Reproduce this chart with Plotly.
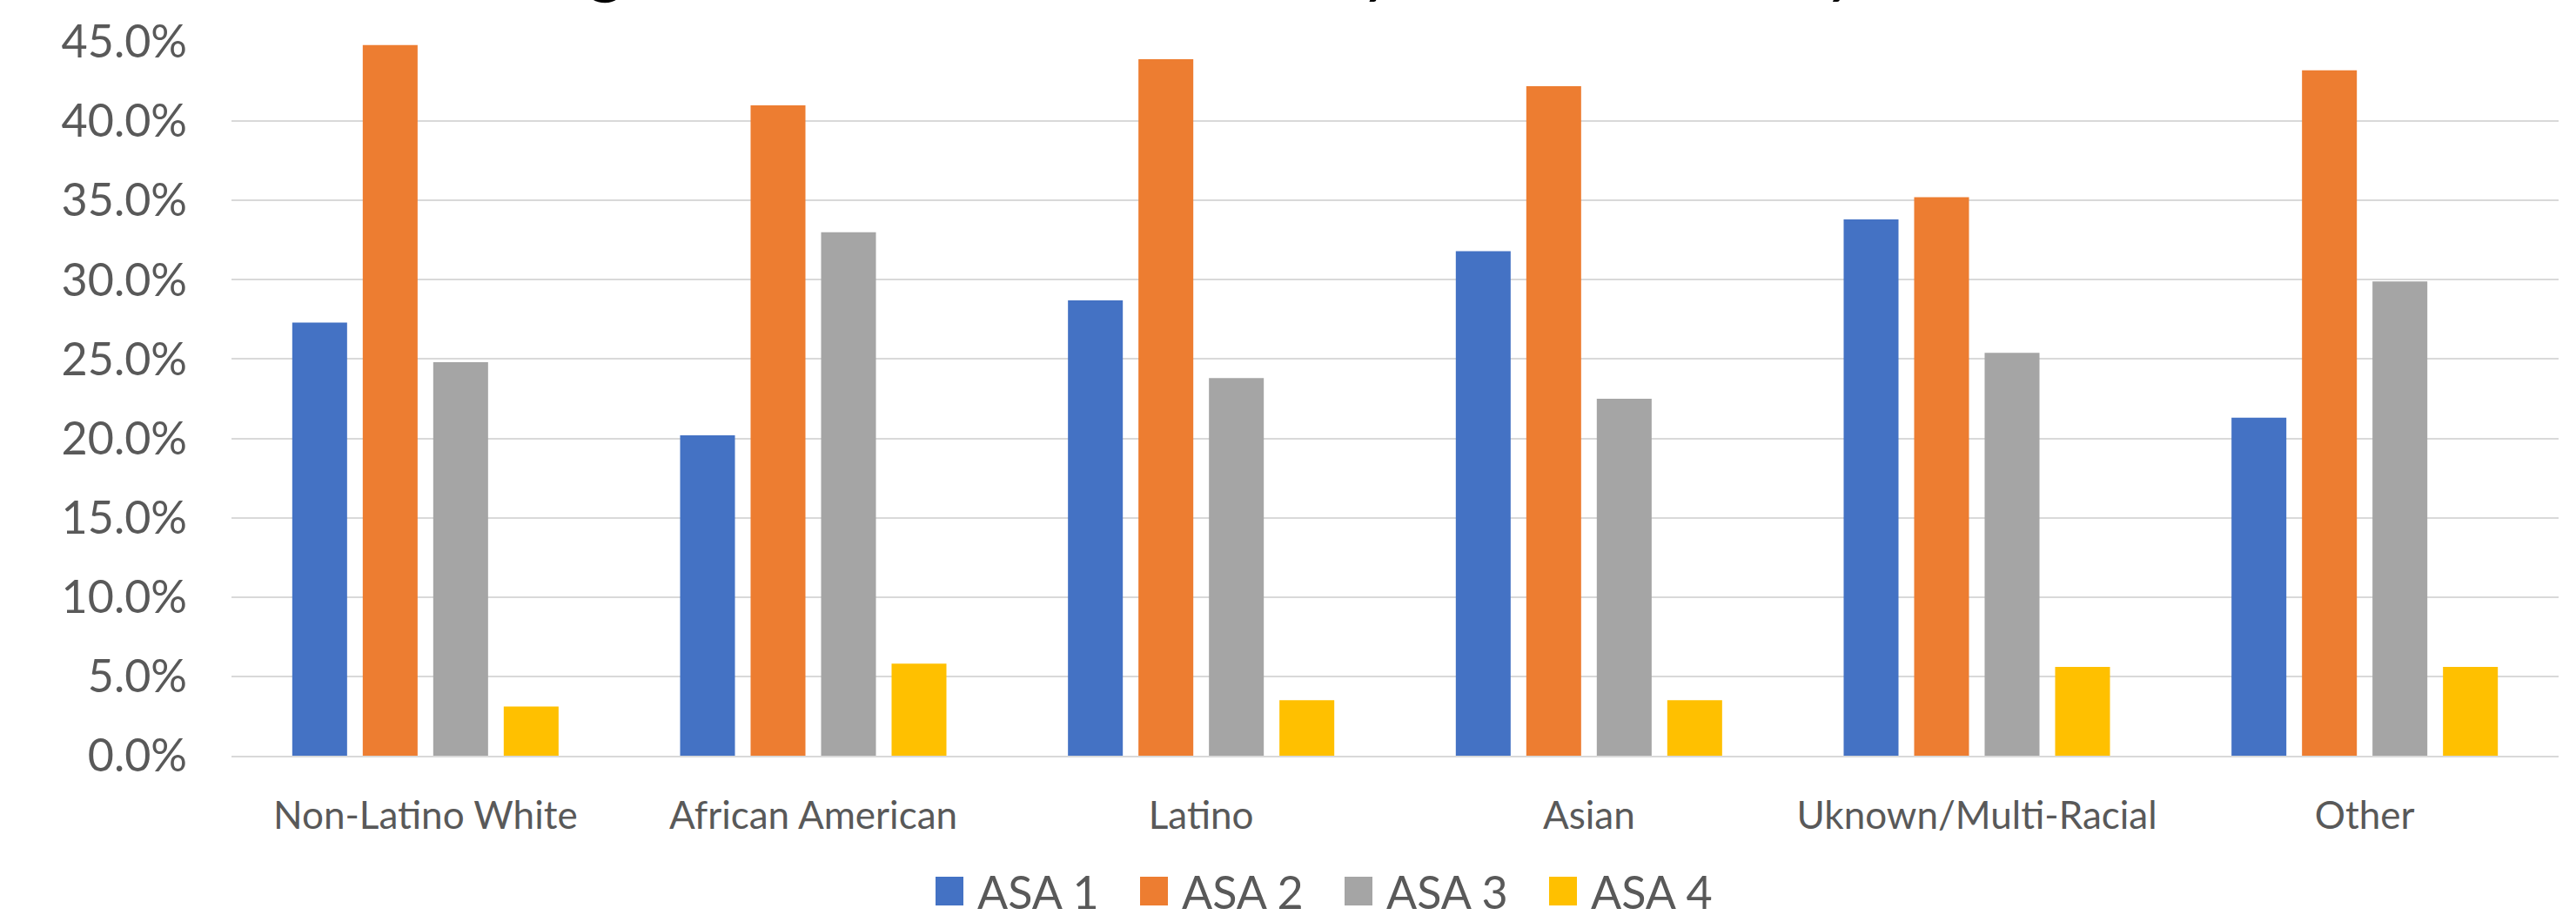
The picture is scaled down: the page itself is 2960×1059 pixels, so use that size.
import plotly.graph_objects as go

# Race/ethnicity groups and the share of patients in each ASA class
categories = ["Non-Latino White", "African American", "Latino", "Asian",
              "Uknown/Multi-Racial", "Other"]
asa_1 = [0.273, 0.202, 0.287, 0.318, 0.338, 0.213]
asa_2 = [0.448, 0.410, 0.439, 0.422, 0.352, 0.432]
asa_3 = [0.248, 0.330, 0.238, 0.225, 0.254, 0.299]
asa_4 = [0.031, 0.058, 0.035, 0.035, 0.056, 0.056]

series_names = ["ASA 1", "ASA 2", "ASA 3", "ASA 4"]
series_values = [asa_1, asa_2, asa_3, asa_4]
series_colors = ["#4472C4", "#ED7D31", "#A5A5A5", "#FFC000"]

y_ticks = [0.0, 0.05, 0.10, 0.15, 0.20, 0.25, 0.30, 0.35, 0.40, 0.45]

W, H = 2960, 1059
M_L, M_R, M_T, M_B = 266, 20, 48, 191
PLOT_W = W - M_L - M_R
PLOT_H = H - M_T - M_B


def px_x(px):
    """Page pixel x -> paper coordinate."""
    return (px - M_L) / PLOT_W


def px_y(py):
    """Page pixel y (from top) -> paper coordinate."""
    return (H - M_B - py) / PLOT_H


FONT = "Lato"
TEXT_GREY = "#595959"
GRID_GREY = "#D9D9D9"

fig = go.Figure()
for name, vals, color in zip(series_names, series_values, series_colors):
    fig.add_trace(go.Bar(
        x=categories, y=vals, name=name,
        marker=dict(color=color, line=dict(width=0)),
        showlegend=False,
    ))

# Legend: coloured squares followed by the series names
shapes = []
annotations = []
legend_x0 = 1075
legend_step = 235
sq_w, sq_h = 32, 33
sq_top = 1007
for i, (name, color) in enumerate(zip(series_names, series_colors)):
    x0 = legend_x0 + i * legend_step
    shapes.append(dict(
        type="rect", xref="paper", yref="paper",
        x0=px_x(x0), x1=px_x(x0 + sq_w),
        y0=px_y(sq_top + sq_h), y1=px_y(sq_top),
        fillcolor=color, line=dict(width=0),
    ))
    annotations.append(dict(
        text=name, xref="paper", yref="paper",
        x=px_x(x0 + 46), y=px_y(sq_top + sq_h / 2),
        xanchor="left", yanchor="middle", showarrow=False,
        font=dict(family=FONT, size=52, color=TEXT_GREY),
    ))

# Chart title, sitting almost entirely above the top edge of the page
annotations.append(dict(
    text="Percentage of ASA Classification by Race/Ethnicity",
    xref="paper", yref="paper",
    x=px_x(1252), y=px_y(-43),
    xanchor="center", yanchor="middle", showarrow=False,
    font=dict(family=FONT, size=80, color="#000000"),
))

fig.update_layout(
    width=W, height=H,
    margin=dict(l=M_L, r=M_R, t=M_T, b=M_B),
    paper_bgcolor="white", plot_bgcolor="white",
    barmode="group", bargap=0.273, bargroupgap=0.222,
    shapes=shapes, annotations=annotations,
    xaxis=dict(
        showgrid=False, showline=True, linecolor=GRID_GREY, linewidth=2,
        tickfont=dict(family=FONT, size=44, color=TEXT_GREY),
        ticks="", ticklabelstandoff=29,
    ),
    yaxis=dict(
        range=[0, 0.45], tickvals=y_ticks, tickformat=".1%",
        showgrid=True, gridcolor=GRID_GREY, gridwidth=2,
        zeroline=False, showline=False, ticks="",
        tickfont=dict(family=FONT, size=52, color=TEXT_GREY),
        ticklabelstandoff=50,
    ),
)

fig.write_html("out.html")
